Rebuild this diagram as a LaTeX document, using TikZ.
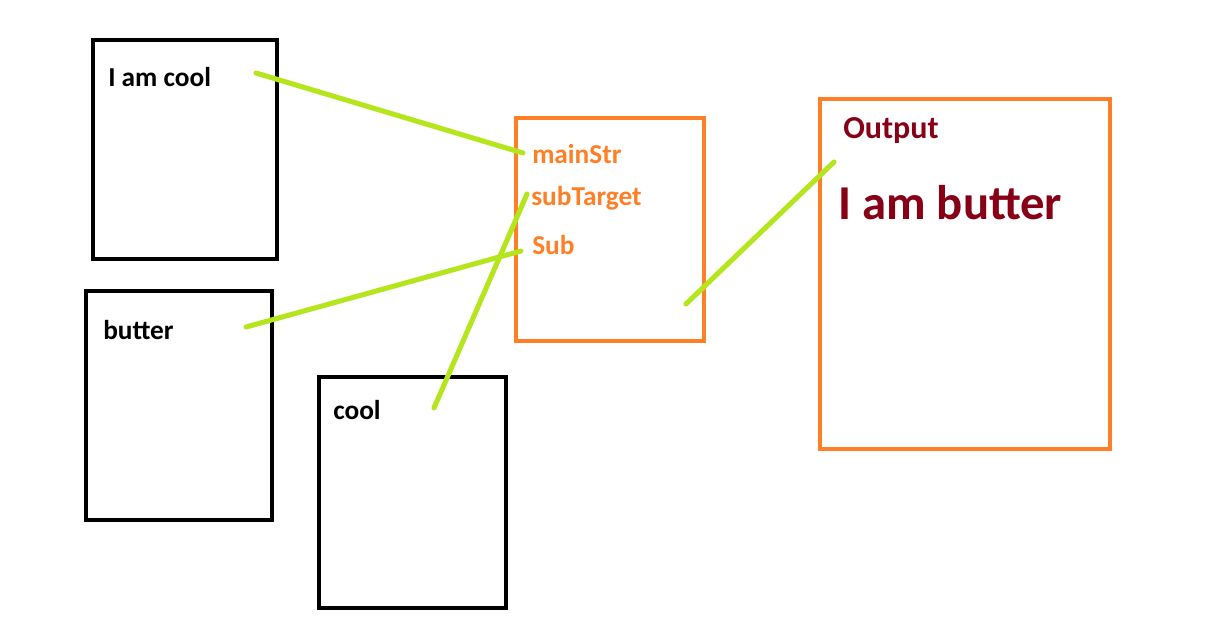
\documentclass[tikz,border=0pt]{standalone}
\usepackage{fontspec}
\setmainfont{Carlito}
\definecolor{paintorange}{HTML}{FF7F27}
\definecolor{paintred}{HTML}{880015}
\definecolor{paintlime}{HTML}{B5E61D}
\tikzset{
	inbox/.style={draw=black,line width=3.2pt},
	funbox/.style={draw=paintorange,line width=3.2pt},
	wire/.style={paintlime,line width=3.8pt,line cap=round},
	label/.style={anchor=base west,inner sep=0pt,font=\fontsize{20.5}{24}\selectfont\bfseries},
}
\begin{document}
\begin{tikzpicture}[x=0.75pt,y=-0.75pt]
		
		\useasboundingbox (0,0) rectangle (1225,637);
		
		% input boxes
		\draw[inbox] (93,40) rectangle (277,259);
		\draw[inbox] (86,291) rectangle (272,520);
		\draw[inbox] (319,377) rectangle (506,608);
		
		% function and output
		\draw[funbox] (516,118) rectangle (704,341);
		\draw[funbox] (820,99) rectangle (1110,449);
		
		
		\node[label] (cooltext) at (108,86) {I am cool};
		\node[label] (buttertext) at (103,339) {butter};
		\node[label] (shorttext) at (333,419) {cool};
		
		\node[label,paintorange] (mainstr) at (532,163) {mainStr};
		\node[label,paintorange] (subtarget) at (531,205) {subTarget};
		\node[label,paintorange] (subarg) at (532,254) {Sub};
		
		\node[label,paintred,font=\fontsize{24}{28}\selectfont\bfseries] (outhead) at (843,138) {Output};
		\node[label,paintred,font=\fontsize{36.5}{42}\selectfont\bfseries] (outtext) at (838,219) {I am butter};
		
		
		\coordinate (coolend) at (256,73);
		\coordinate (mainend) at (523,153);
		\coordinate (targetend) at (527,194);
		\coordinate (shortend) at (434,408);
		\coordinate (butterend) at (246,327);
		\coordinate (subend) at (521,251);
		\coordinate (funend) at (686,304);
		\coordinate (outend) at (834,162);
		
		\draw[wire] (coolend) -- (mainend);
		\draw[wire] (targetend) -- (shortend);
		\draw[wire] (butterend) -- (subend);
		\draw[wire] (funend) -- (outend);
		
	\end{tikzpicture}
\end{document}
